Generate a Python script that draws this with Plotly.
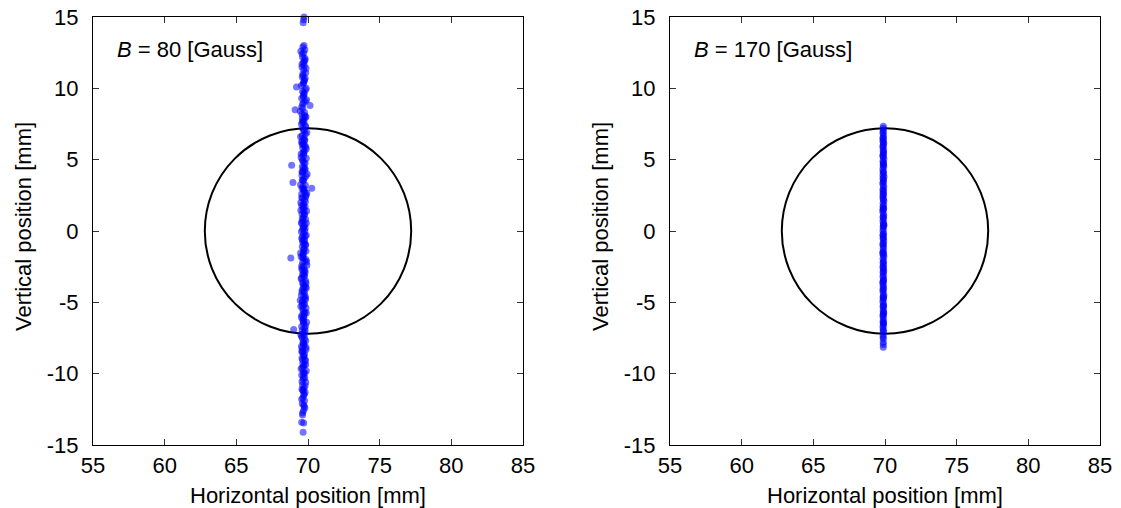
import plotly.graph_objects as go

# ---------------- data ----------------
left_y = [
    15.0, 14.8, 14.6, 12.9, 12.7, 12.5, 12.2, 12.0, 11.8, 11.6,
    11.5, 11.3, 11.1, 10.9, 10.8, 10.6, 10.4, 10.1, 10.0, 9.8,
    9.6, 9.5, 9.3, 9.1, 9.0, 8.8, 8.6, 8.5, 8.3, 8.2,
    8.0, 7.8, 7.7, 7.5, 7.4, 7.2, 7.0, 6.9, 6.7, 6.5,
    6.4, 6.2, 6.1, 5.9, 5.8, 5.6, 5.4, 5.3, 5.1, 5.0,
    4.8, 4.6, 4.5, 4.3, 4.2, 4.0, 3.9, 3.7, 3.5, 3.4,
    3.2, 3.1, 3.0, 2.8, 2.6, 2.5, 2.3, 2.2, 2.0, 1.9,
    1.7, 1.5, 1.4, 1.2, 1.1, 0.9, 0.8, 0.6, 0.4, 0.3,
    0.1, 0.0, -0.2, -0.3, -0.5, -0.6, -0.8, -1.0, -1.1, -1.3,
    -1.4, -1.6, -1.8, -1.9, -2.1, -2.2, -2.4, -2.5, -2.7, -2.9,
    -3.0, -3.2, -3.3, -3.5, -3.7, -3.8, -4.0, -4.1, -4.3, -4.5,
    -4.6, -4.8, -4.9, -5.1, -5.3, -5.4, -5.6, -5.7, -5.9, -6.1,
    -6.2, -6.4, -6.5, -6.7, -6.9, -7.0, -7.2, -7.3, -7.5, -7.7,
    -7.8, -8.0, -8.1, -8.3, -8.5, -8.6, -8.8, -8.9, -9.1, -9.3,
    -9.4, -9.6, -9.8, -9.9, -10.1, -10.3, -10.4, -10.6, -10.8, -11.0,
    -11.1, -11.3, -11.5, -11.7, -11.9, -12.1, -12.3, -12.6, -12.9, -13.4,
    -13.45, -14.1, 9.7, 8.9, 8.1, 7.6, 6.8, 6.3, 5.5, 4.9,
    4.4, 3.6, 2.9, 2.4, 1.8, 1.3, 0.7, 0.2, -0.4, -0.9,
    -1.5, -2.0, -2.6, -3.1, -3.6, -4.2, -4.7, -5.2, -5.8, -6.3,
    -6.8, -7.4, -7.9, -8.4, -9.0, -9.5, 11.9, 10.3, 7.9, 6.0,
    4.1, 2.7, 1.6, 0.5, -0.7, -1.7, -2.8, -3.9, -5.0, -6.0,
    -7.1, -8.2, -10.0, -11.2, -12.4, 13.0, 12.4, 10.7, 3.0, -1.9,
]
left_x = [
    69.72, 69.70, 69.66, 69.64, 69.78, 69.70, 69.62, 69.80, 69.68, 69.74,
    69.58, 69.70, 69.84, 69.66, 69.60, 69.76, 69.70, 69.20, 69.88, 69.62,
    69.74, 69.68, 69.56, 69.82, 69.70, 70.14, 69.64, 69.10, 69.76, 69.58,
    69.86, 69.66, 69.72, 69.54, 69.80, 69.62, 69.74, 69.92, 69.60, 69.70,
    69.78, 69.56, 69.68, 69.84, 69.64, 69.74, 69.52, 69.70, 69.88, 69.62,
    69.72, 68.86, 69.60, 69.80, 69.66, 69.94, 69.58, 69.74, 69.68, 68.95,
    69.82, 69.64, 70.26, 69.70, 69.56, 69.86, 69.62, 69.76, 69.50, 69.70,
    69.80, 69.64, 69.90, 69.58, 69.72, 69.66, 69.84, 69.54, 69.76, 69.68,
    69.62, 69.78, 69.70, 69.88, 69.56, 69.74, 69.64, 69.82, 69.60, 69.72,
    69.86, 69.66, 69.52, 68.80, 69.76, 69.62, 69.92, 69.70, 69.58, 69.80,
    69.68, 69.74, 69.56, 69.84, 69.64, 69.72, 69.88, 69.60, 69.76, 69.54,
    69.70, 69.82, 69.62, 69.74, 69.50, 69.86, 69.66, 69.78, 69.58, 69.72,
    69.64, 69.90, 69.70, 69.56, 69.00, 69.80, 69.68, 69.74, 69.60, 69.84,
    69.66, 69.72, 69.54, 69.86, 69.62, 69.76, 69.70, 69.58, 69.82, 69.64,
    69.74, 69.60, 69.88, 69.68, 69.56, 69.78, 69.66, 69.84, 69.62, 69.72,
    69.58, 69.80, 69.70, 69.64, 69.76, 69.60, 69.74, 69.68, 69.62, 69.56,
    69.70, 69.66, 69.70, 69.62, 69.76, 69.66, 69.82, 69.58, 69.72, 69.64,
    69.78, 69.60, 69.70, 69.84, 69.56, 69.74, 69.66, 69.80, 69.62, 69.72,
    69.68, 69.86, 69.58, 69.76, 69.64, 69.70, 69.82, 69.60, 69.74, 69.66,
    69.78, 69.56, 69.72, 69.64, 69.80, 69.68, 69.74, 69.66, 69.60, 69.76,
    69.62, 69.80, 69.70, 69.58, 69.76, 69.66, 69.72, 69.84, 69.60, 69.70,
    69.74, 69.62, 69.70, 69.66, 69.78, 69.72, 69.60, 69.80, 69.58, 69.64,
]
left_y_extra = [
    12.6, 12.1, 11.7, 11.4, 11.0, 10.5, 10.2, 9.9, 9.4, 9.2,
    8.7, 8.4, 7.95, 7.65, 7.3, 7.1, 6.6, 6.35, 6.05, 5.75,
    5.45, 5.15, 4.75, 4.45, 4.15, 3.85, 3.55, 3.25, 2.95, 2.65,
    2.35, 2.05, 1.75, 1.45, 1.15, 0.85, 0.55, 0.25, -0.05, -0.35,
    -0.65, -0.95, -1.25, -1.55, -1.85, -2.15, -2.45, -2.75, -3.05, -3.35,
    -3.65, -3.95, -4.25, -4.55, -4.85, -5.15, -5.45, -5.75, -6.05, -6.35,
    -6.65, -6.95, -7.25, -7.55, -7.85, -8.15, -8.45, -8.75, -9.05, -9.35,
    -9.65, -9.95, -10.25, -10.55, -10.85, -11.15, -11.45, -11.8, -12.2, -12.75,
]
left_x_extra = [
    69.50, 69.78, 69.58, 69.86, 69.64, 69.72, 69.54, 69.82, 69.68, 69.90,
    69.56, 69.46, 69.80, 69.62, 69.84, 69.70, 69.48, 69.76, 69.60, 69.88,
    69.66, 69.52, 69.80, 69.70, 69.58, 69.86, 69.64, 69.48, 69.74, 69.92,
    69.56, 69.82, 69.66, 69.50, 69.76, 69.60, 69.88, 69.68, 69.54, 69.80,
    69.62, 69.84, 69.72, 69.48, 69.66, 69.90, 69.56, 69.78, 69.62, 69.52,
    69.86, 69.70, 69.58, 69.80, 69.46, 69.74, 69.64, 69.88, 69.54, 69.68,
    69.82, 69.60, 69.50, 69.76, 69.66, 69.86, 69.56, 69.72, 69.62, 69.84,
    69.52, 69.78, 69.68, 69.58, 69.80, 69.64, 69.74, 69.56, 69.70, 69.62,
]

right_y = [
    7.34, 7.05, 6.85, 6.7, 6.55, 6.4, 6.3, 6.15, 6.0, 5.85,
    5.7, 5.6, 5.45, 5.3, 5.2, 5.05, 4.9, 4.75, 4.6, 4.5,
    4.35, 4.2, 4.05, 3.9, 3.8, 3.65, 3.5, 3.35, 3.2, 3.1,
    2.95, 2.8, 2.65, 2.5, 2.4, 2.25, 2.1, 1.95, 1.8, 1.7,
    1.55, 1.4, 1.25, 1.1, 1.0, 0.85, 0.7, 0.55, 0.4, 0.3,
    0.15, 0.0, -0.15, -0.3, -0.4, -0.55, -0.7, -0.85, -1.0, -1.1,
    -1.25, -1.4, -1.55, -1.7, -1.8, -1.95, -2.1, -2.25, -2.4, -2.5,
    -2.65, -2.8, -2.95, -3.1, -3.2, -3.35, -3.5, -3.65, -3.8, -3.9,
    -4.05, -4.2, -4.35, -4.5, -4.6, -4.75, -4.9, -5.05, -5.2, -5.3,
    -5.45, -5.6, -5.75, -5.9, -6.0, -6.15, -6.3, -6.45, -6.6, -6.75,
    -6.9, -7.1, -7.3, -7.55, -7.8, -8.15, 6.5, 5.5, 4.8, 3.7,
    2.6, 1.5, 0.5, -0.5, -1.5, -2.6, -3.6, -4.7, -5.7, -6.4,
]
right_x = [
    69.88, 69.88, 69.86, 69.90, 69.87, 69.89, 69.85, 69.91, 69.88, 69.86,
    69.90, 69.87, 69.89, 69.84, 69.88, 69.92, 69.86, 69.89, 69.87, 69.91,
    69.85, 69.88, 69.90, 69.86, 69.93, 69.87, 69.89, 69.84, 69.88, 69.91,
    69.87, 69.90, 69.86, 69.89, 69.85, 69.88, 69.92, 69.87, 69.90, 69.86,
    69.89, 69.84, 69.88, 69.91, 69.87, 69.90, 69.86, 69.89, 69.93, 69.87,
    69.88, 69.86, 69.90, 69.85, 69.89, 69.87, 69.91, 69.88, 69.86, 69.90,
    69.87, 69.89, 69.84, 69.88, 69.92, 69.86, 69.89, 69.87, 69.90, 69.85,
    69.88, 69.91, 69.87, 69.89, 69.86, 69.90, 69.88, 69.84, 69.89, 69.87,
    69.90, 69.86, 69.88, 69.92, 69.87, 69.89, 69.85, 69.88, 69.90, 69.86,
    69.89, 69.87, 69.91, 69.88, 69.86, 69.89, 69.87, 69.90, 69.88, 69.86,
    69.88, 69.89, 69.87, 69.88, 69.88, 69.88, 69.86, 69.90, 69.88, 69.87,
    69.89, 69.87, 69.90, 69.88, 69.86, 69.89, 69.87, 69.88, 69.90, 69.87,
]
right_y_extra = [
    7.2, 6.95, 6.2, 5.95, 5.25, 4.65, 4.1, 3.45, 2.85, 2.2,
    1.6, 0.95, 0.35, -0.25, -0.9, -1.6, -2.2, -2.85, -3.45, -4.1,
    -4.65, -5.25, -5.85, -6.5, -7.0, -7.45, -7.95,
]
right_x_extra = [
    69.88, 69.87, 69.89, 69.86, 69.88, 69.90, 69.87, 69.89, 69.86, 69.88,
    69.90, 69.87, 69.89, 69.88, 69.86, 69.90, 69.88, 69.87, 69.89, 69.86,
    69.88, 69.90, 69.87, 69.89, 69.88, 69.87, 69.88,
]

panel_labels = ["80", "170"]
circle_center = (70.0, 0.0)
circle_radius = 7.2
x_ticks = [55, 60, 65, 70, 75, 80, 85]
y_ticks = [-15, -10, -5, 0, 5, 10, 15]
y_tick_text = ["-15", "-10", "-5", "0", "5", "10", "15"]
x_title = "Horizontal position [mm]"
y_title = "Vertical position [mm]"

# ---------------- figure ----------------
W, H = 1121, 508
MT, MB = 17, 63
PH = H - MT - MB
FONT = "Liberation Sans, Arial, Helvetica, sans-serif"
FS = 22
fig = go.Figure()

marker = dict(color="rgba(0,0,255,0.55)", size=7, line=dict(width=0))
fig.add_trace(go.Scatter(x=left_x + left_x_extra, y=left_y + left_y_extra,
                         mode="markers", marker=marker, cliponaxis=False,
                         xaxis="x", yaxis="y", showlegend=False))
fig.add_trace(go.Scatter(x=right_x + right_x_extra, y=right_y + right_y_extra,
                         mode="markers", marker=marker, cliponaxis=False,
                         xaxis="x2", yaxis="y2", showlegend=False))

cx, cy = circle_center
for xr, yr in (("x", "y"), ("x2", "y2")):
    fig.add_shape(type="circle", xref=xr, yref=yr,
                  x0=cx - circle_radius, x1=cx + circle_radius,
                  y0=cy - circle_radius, y1=cy + circle_radius,
                  line=dict(color="black", width=2), layer="below")

for xr, yr, lab in (("x", "y", panel_labels[0]), ("x2", "y2", panel_labels[1])):
    fig.add_annotation(x=56.5, y=12.75, xref=xr, yref=yr, xanchor="left",
                       yanchor="middle", showarrow=False,
                       text=f"<i>B</i> = {lab} [Gauss]",
                       font=dict(family=FONT, size=FS, color="black"))

# axis titles (placed in pixel terms relative to plot frames)
xd1 = [93 / W, 523 / W]
xd2 = [670 / W, 1100 / W]
title_font = dict(family=FONT, size=FS, color="black")
for xd in (xd1, xd2):
    fig.add_annotation(x=(xd[0] + xd[1]) / 2, y=-(495 - (H - MB)) / PH,
                       xref="paper", yref="paper", xanchor="center", yanchor="middle",
                       showarrow=False, text=x_title, font=title_font)
    fig.add_annotation(x=(xd[0] * W - 70) / W, y=(H - MB - 227) / PH,
                       xref="paper", yref="paper", xanchor="center", yanchor="middle",
                       textangle=-90, showarrow=False, text=y_title, font=title_font)

axis_common = dict(showline=True, linecolor="black", linewidth=1, mirror="ticks",
                   ticks="inside", ticklen=6, tickcolor="#333", tickwidth=1,
                   showgrid=False, zeroline=False, automargin=False,
                   tickfont=dict(family=FONT, size=FS, color="black"))

fig.update_layout(
    width=W, height=H,
    margin=dict(l=0, r=0, t=MT, b=MB),
    paper_bgcolor="white", plot_bgcolor="white",
    xaxis=dict(domain=xd1, range=[55, 85], tickvals=x_ticks, anchor="y",
               ticklabelstandoff=1, **axis_common),
    yaxis=dict(domain=[0, 1], range=[-15, 15], tickvals=y_ticks, ticktext=y_tick_text,
               anchor="x", ticklabelstandoff=9, **axis_common),
    xaxis2=dict(domain=xd2, range=[55, 85], tickvals=x_ticks, anchor="y2",
                ticklabelstandoff=1, **axis_common),
    yaxis2=dict(domain=[0, 1], range=[-15, 15], tickvals=y_ticks, ticktext=y_tick_text,
                anchor="x2", ticklabelstandoff=9, **axis_common),
)

fig.write_html("out.html", config={"displayModeBar": False},
               post_script="document.body.style.margin='0px';document.body.style.overflow='hidden';")
